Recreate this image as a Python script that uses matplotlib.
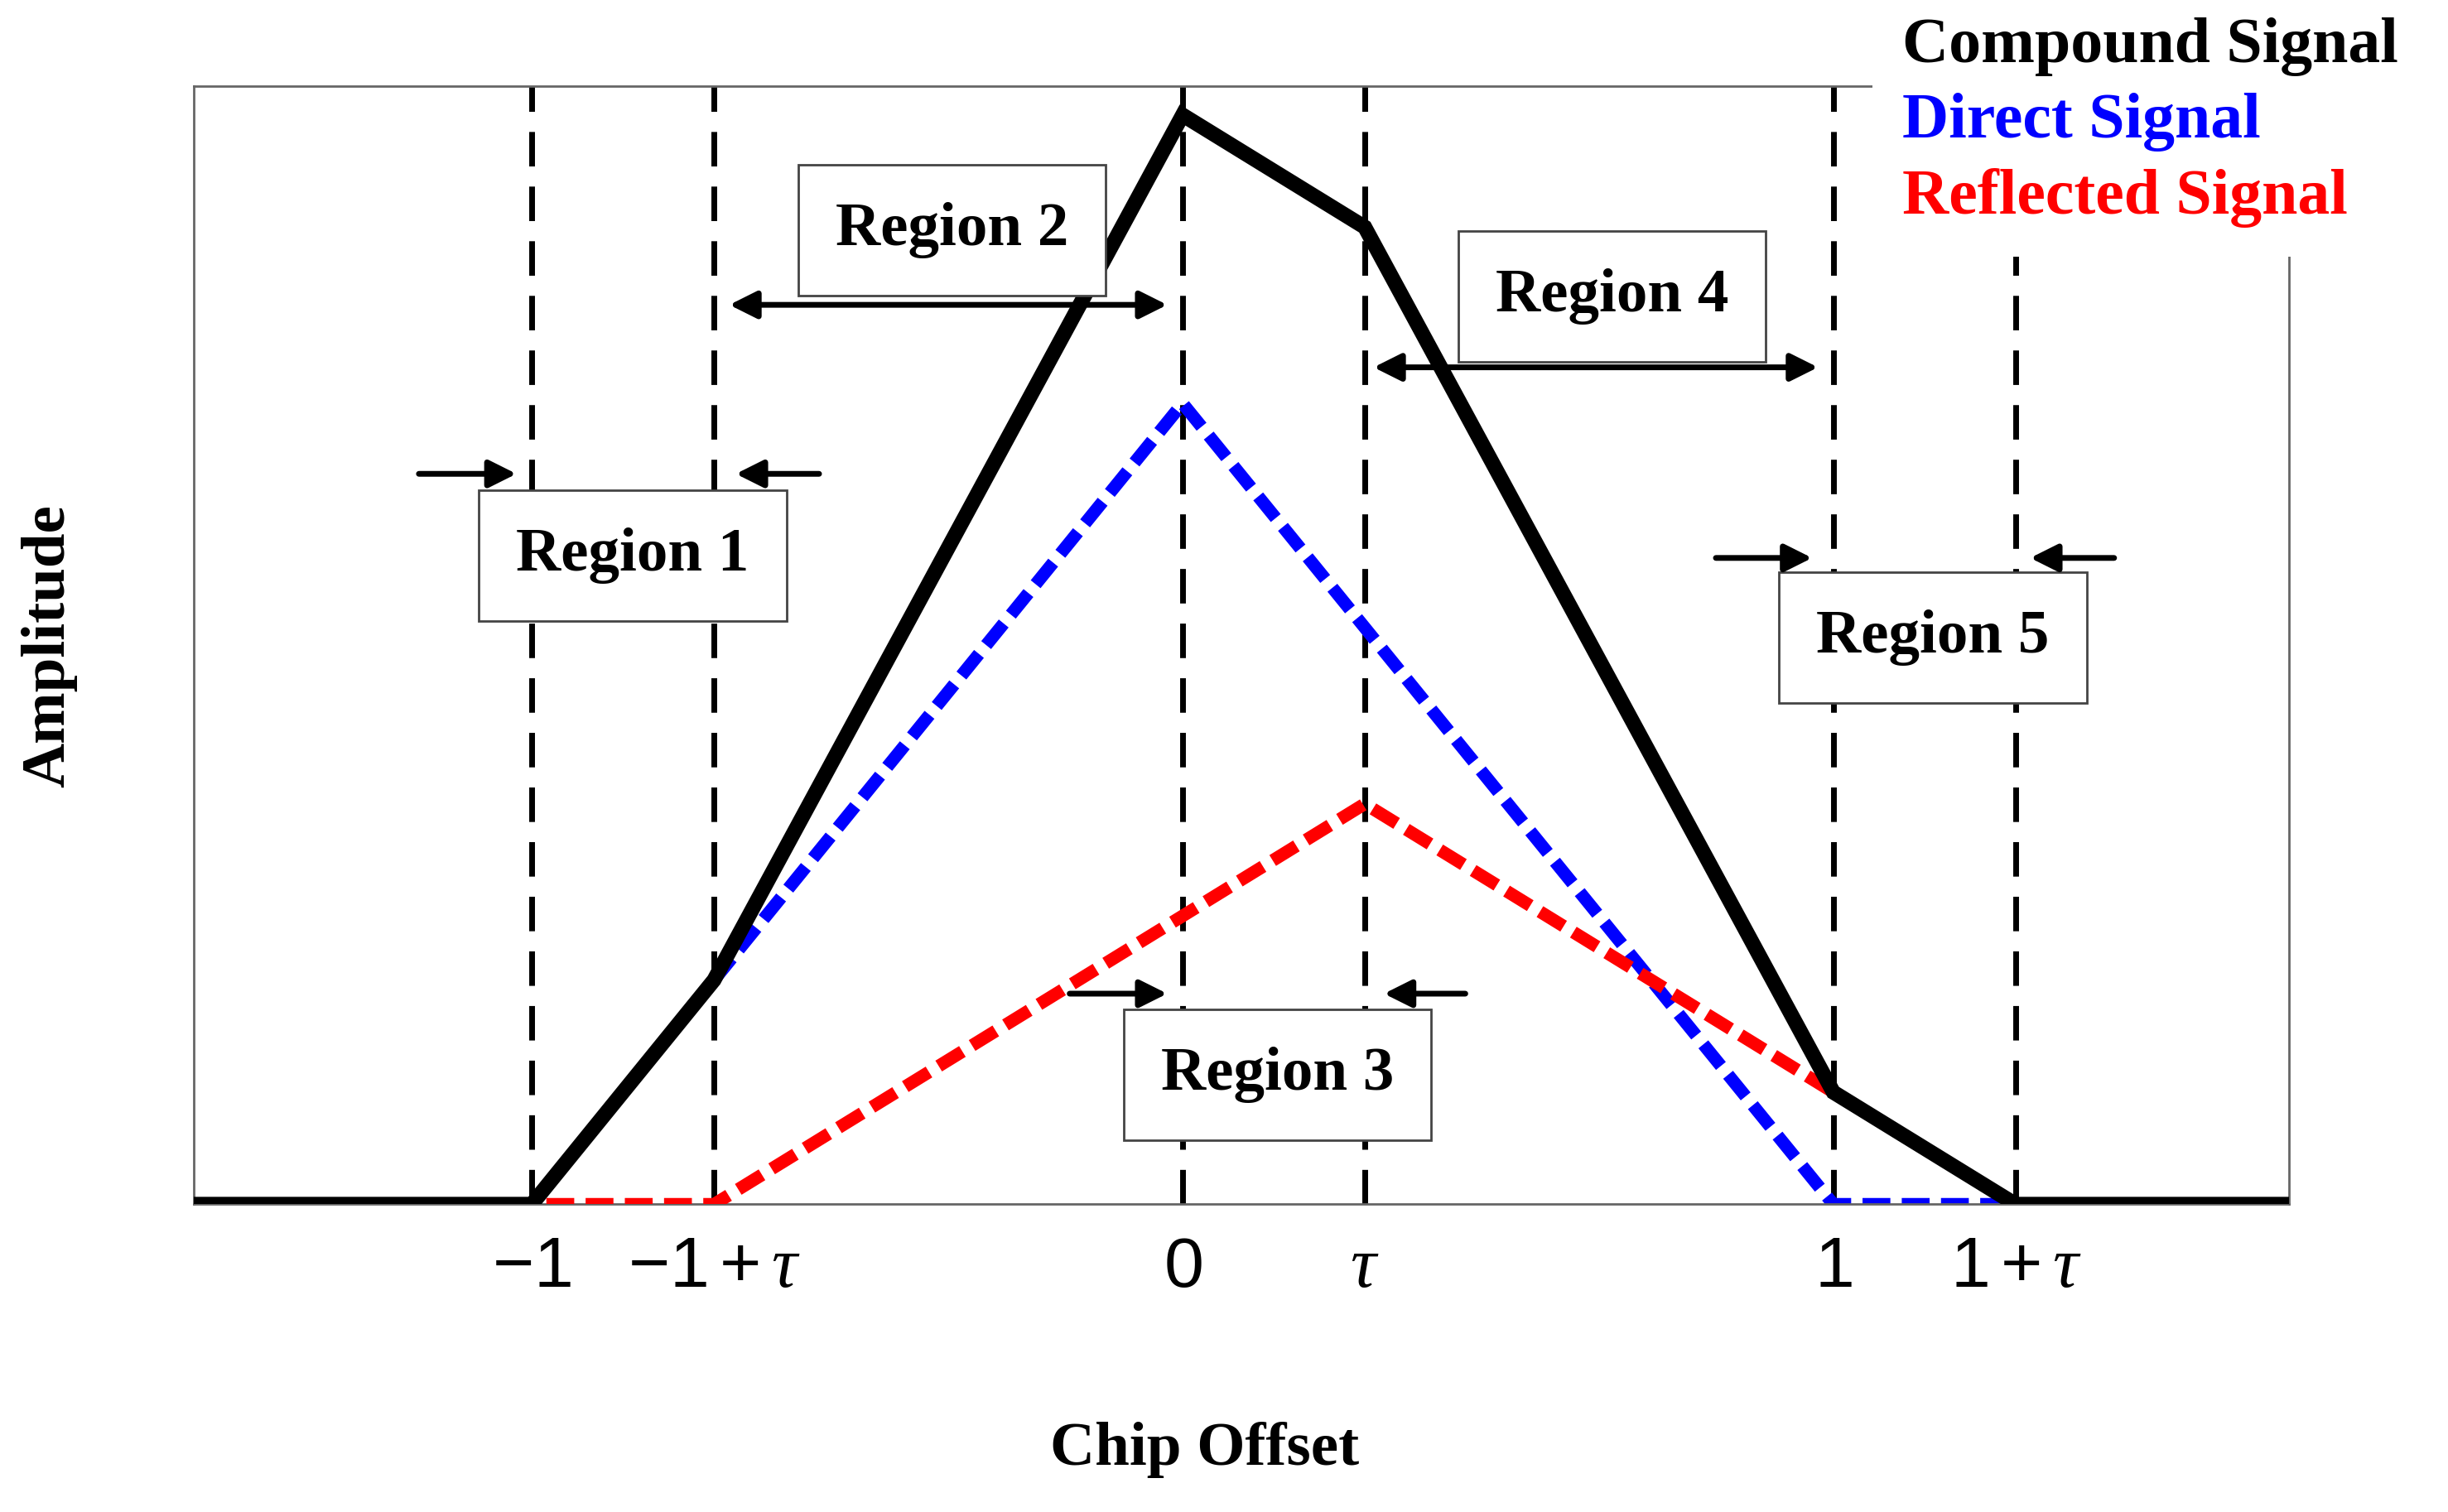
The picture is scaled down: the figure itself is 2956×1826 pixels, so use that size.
import matplotlib.pyplot as plt
from matplotlib.patches import Rectangle

plt.rcParams['mathtext.fontset'] = 'custom'
plt.rcParams['mathtext.rm'] = 'Liberation Sans'
plt.rcParams['mathtext.it'] = 'Liberation Serif:italic'

tau = 0.28
# chip offsets where the curves break
chip = [-1.52, -1, -1 + tau, 0, tau, 1, 1 + tau, 1.70]
direct = [0, 0, 0.28, 1.0, 0.72, 0, 0, 0]
reflected = [0, 0, 0, 0.36, 0.5, 0.14, 0, 0]
compound = [d + r for d, r in zip(direct, reflected)]

tick_pos = [-1, -1 + tau, 0, tau, 1, 1 + tau]
tick_labels = ['$\\mathrm{-1}$', '$\\mathrm{-1+}\\mathit{\\tau}$', '$\\mathrm{0}$',
               '$\\mathit{\\tau}$', '$\\mathrm{1}$', '$\\mathrm{1+}\\mathit{\\tau}$']

regions = ['Region 1', 'Region 2', 'Region 3', 'Region 4', 'Region 5']
region_x = [-0.845, -0.354, 0.146, 0.66, 1.153]
region_y = [0.81, 1.216, 0.162, 1.134, 0.708]

serif = 'Liberation Serif'
fs = 54

fig = plt.figure(figsize=(29.56, 18.26), dpi=100)
ax = fig.add_axes([0.079, 0.2035, 0.856, 0.7395])
ax.set_xlim(chip[0], chip[-1])
ax.set_ylim(0, 1.396)

for x in tick_pos:
    ax.axvline(x, color='black', lw=5, ls=(0, (6, 3.5)), zorder=1)

ax.plot(chip, direct, color='blue', lw=11, ls=(0, (2.2, 0.9)), zorder=2)
ax.plot(chip, reflected, color='red', lw=11, ls=(0, (2.2, 0.9)), zorder=3)
ax.plot(chip, compound, color='black', lw=13, zorder=4, solid_joinstyle='miter')

for name, x, y in zip(regions, region_x, region_y):
    ax.text(x, y, name, fontsize=fs, fontweight='bold', family=serif, ha='center', va='center',
            bbox=dict(boxstyle='square,pad=0.6', fc='white', ec='#444444', lw=2), zorder=6)

aprops = dict(arrowstyle='<|-|>', color='black', lw=5, mutation_scale=50)
ax.annotate('', xy=(-1 + tau + 0.02, 1.123), xytext=(-0.02, 1.123), arrowprops=aprops, zorder=7)
ax.annotate('', xy=(tau + 0.01, 1.045), xytext=(0.98, 1.045), arrowprops=aprops, zorder=7)
sprops = dict(arrowstyle='-|>', color='black', lw=5, mutation_scale=50)
for (x0, x1, y) in [(-1.177, -1.02, 0.912), (-0.555, -0.69, 0.912),
                    (-0.177, -0.02, 0.263), (0.438, 0.306, 0.263),
                    (0.816, 0.971, 0.807), (1.435, 1.299, 0.807)]:
    ax.annotate('', xy=(x1, y), xytext=(x0, y), arrowprops=sprops, zorder=7)

ax.set_xticks(tick_pos)
ax.set_xticklabels(tick_labels, fontsize=62)
ax.tick_params(axis='x', length=0, pad=25)
ax.set_yticks([])
for s in ax.spines.values():
    s.set_color('#666666')
    s.set_linewidth(2)

fig.text(0.02, 0.573, 'Amplitude', rotation=90, fontsize=fs, fontweight='bold', family=serif,
         ha='center', va='center')
fig.text(0.492, 0.041, 'Chip Offset', fontsize=fs, fontweight='bold', family=serif,
         ha='center', va='center')

fig.patches.append(Rectangle((0.765, 0.83), 0.235, 0.17, transform=fig.transFigure,
                             fc='white', ec='none', zorder=1))
for txt, col, y in [('Compound Signal', 'black', 0.969), ('Direct Signal', 'blue', 0.919),
                    ('Reflected Signal', 'red', 0.869)]:
    fig.text(0.777, y, txt, color=col, fontsize=fs + 2, fontweight='bold', family=serif,
             ha='left', va='center', zorder=2)

fig.savefig('out.png', dpi=100)
